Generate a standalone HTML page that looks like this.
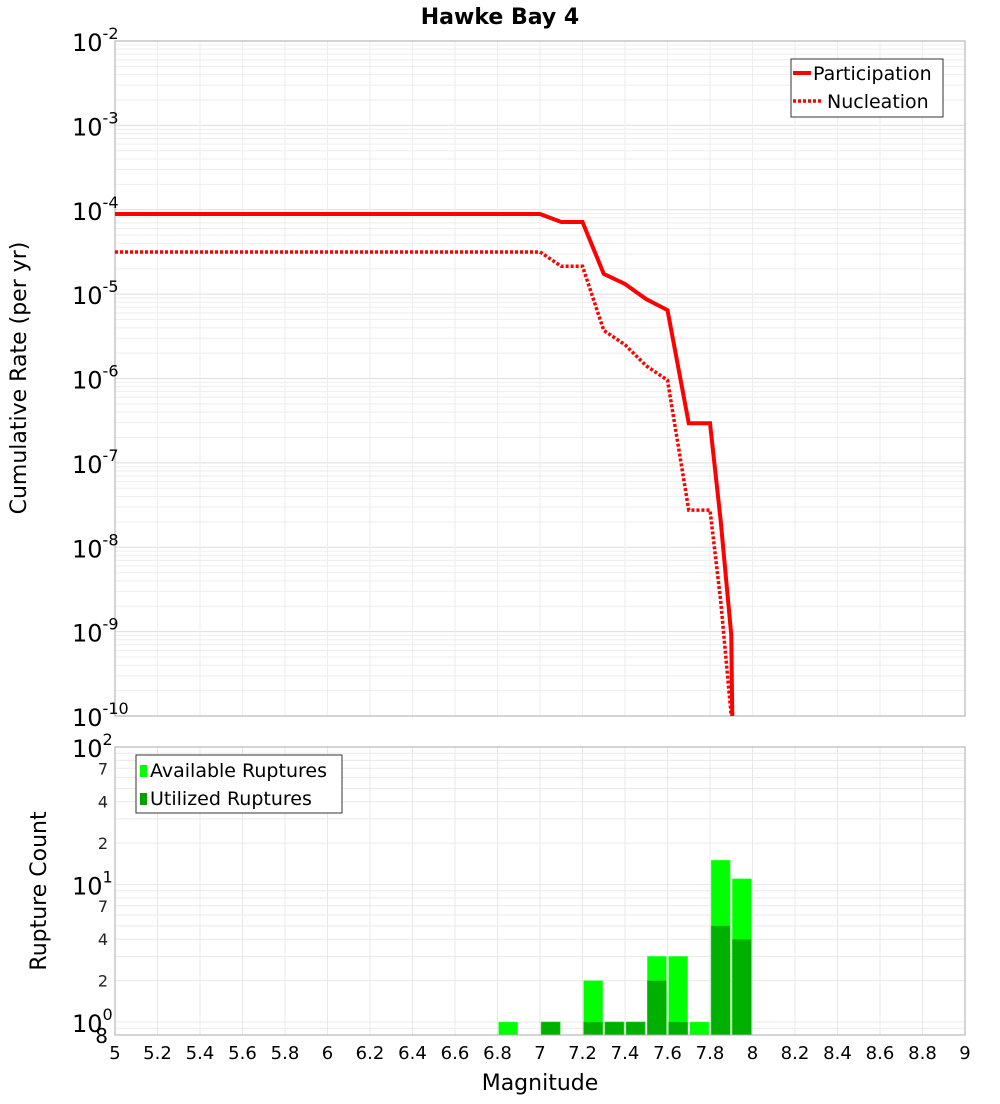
<!DOCTYPE html>
<html><head><meta charset="utf-8"><style>
body{margin:0;background:#fff;font-family:"DejaVu Sans","Liberation Sans",sans-serif;}
svg text{font-family:"DejaVu Sans","Liberation Sans",sans-serif;}
</style></head><body>
<svg id="c" width="1000" height="1100" xmlns="http://www.w3.org/2000/svg">
<rect width="1000" height="1100" fill="#fff"/>
<text x="500" y="24" font-size="22" font-weight="bold" text-anchor="middle">Hawke Bay 4</text>
<g id="topg"></g><g id="botg"></g>
</svg>
<script>
const magsLine=[5,7.0,7.1,7.2,7.3,7.4,7.5,7.6,7.7,7.8,7.85,7.9,7.91];
const partLog=[-4.05,-4.05,-4.145,-4.145,-4.76,-4.88,-5.06,-5.19,-6.53,-6.53,-7.68,-9.04,-11];
const nuclLog=[-4.5,-4.5,-4.67,-4.67,-5.43,-5.6,-5.85,-6.02,-7.56,-7.56,-8.63,-10.0,-11];
const binCenters=[6.85,7.05,7.25,7.35,7.45,7.55,7.65,7.75,7.85,7.95];
const available=[1,1,2,1,1,3,3,1,15,11];
const utilized=[0,1,1,1,1,2,1,0,5,4];
const xTicks=["5","5.2","5.4","5.6","5.8","6","6.2","6.4","6.6","6.8","7","7.2","7.4","7.6","7.8","8","8.2","8.4","8.6","8.8","9"];
const NS="http://www.w3.org/2000/svg";
const X0=115,X1=965;
const xs=m=>X0+(m-5)/4*(X1-X0);
const yt=l=>41+(-2-l)*84.375;
const yb=v=>1022-Math.log10(v)*137.5;
function mk(p,tg,a){const e=document.createElementNS(NS,tg);for(const k in a)e.setAttribute(k,a[k]);p.appendChild(e);return e;}
const gTop=document.getElementById('topg'),gBot=document.getElementById('botg');
const svgEl=document.getElementById('c');
const defs=mk(svgEl,'defs',{});
const cp=mk(defs,'clipPath',{id:'cpt'});mk(cp,'rect',{x:115,y:41,width:850,height:675});
for(let d=-10;d<-2;d++){for(let k=1;k<10;k++){const y=yt(d+Math.log10(k));
const g=mk(gTop,'line',{x1:X0,x2:X1,y1:y,y2:y,stroke:k==1?'#ddd':'#eee','stroke-width':1});

}}
xTicks.forEach(s=>{const x=xs(+s);const g=mk(gTop,'line',{x1:x,x2:x,y1:41,y2:716,stroke:'#eee'});


const g2=mk(gBot,'line',{x1:x,x2:x,y1:747,y2:1035,stroke:'#e8e8e8'});

});
const fr=mk(gTop,'rect',{x:115,y:41,width:850,height:675,fill:'none',stroke:'#aaa'});


for(let d=-10;d<=-2;d++){const y=yt(d);
const tx=mk(gTop,'text',{x:72,y:y+10,'font-size':24});


tx.textContent='10';const sp=mk(tx,'tspan',{dy:-12,'font-size':16});sp.textContent=String(d);}
const yl=mk(gTop,'text',{x:0,y:0,'font-size':22,'text-anchor':'middle',transform:'translate(26,378) rotate(-90)'});


yl.textContent='Cumulative Rate (per yr)';
function pts(arr){return magsLine.map((m,i)=>xs(m)+','+yt(arr[i])).join(' ');}
const p1=mk(gTop,'polyline',{points:pts(partLog),fill:'none',stroke:'#f00','stroke-width':4,'clip-path':'url(#cpt)'});


const p2=mk(gTop,'polyline',{points:pts(nuclLog),fill:'none',stroke:'#f00','stroke-width':3.5,'stroke-dasharray':'3,2','clip-path':'url(#cpt)'});


const lg=mk(gTop,'g',{});


mk(lg,'rect',{x:791,y:59,width:152,height:58,fill:'#fff',stroke:'#333'});
mk(lg,'line',{x1:793,x2:811,y1:73,y2:73,stroke:'#f00','stroke-width':4});
mk(lg,'line',{x1:793,x2:823,y1:101,y2:101,stroke:'#f00','stroke-width':3.5,'stroke-dasharray':'3,2'});
let tt1=mk(lg,'text',{x:813,y:80,'font-size':19});tt1.textContent='Participation';
tt1=mk(lg,'text',{x:827,y:108,'font-size':19});tt1.textContent='Nucleation';
for(let d=-1;d<2;d++){for(let k=1;k<10;k++){const y=yb(Math.pow(10,d)*k);if(y>1035||y<747)continue;
const g=mk(gBot,'line',{x1:X0,x2:X1,y1:y,y2:y,stroke:'#eaeaea'});

}}
binCenters.forEach((m,i)=>{const x=xs(m)-9.5;
if(available[i]>0){const r=mk(gBot,'rect',{x:x,y:yb(available[i]),width:19,height:1035-yb(available[i]),fill:'#00ff00',stroke:'#5f5','stroke-width':0.5});

}
if(utilized[i]>0){const r=mk(gBot,'rect',{x:x,y:yb(utilized[i]),width:19,height:1035-yb(utilized[i]),fill:'#00b000',stroke:'#3c3','stroke-width':0.5});

}});
const fr2=mk(gBot,'rect',{x:115,y:747,width:850,height:288,fill:'none',stroke:'#aaa'});


[[0,'0'],[1,'1'],[2,'2']].forEach(([d,s])=>{const y=yb(Math.pow(10,d));
const tx=mk(gBot,'text',{x:72,y:y+10,'font-size':24});


tx.textContent='10';const sp=mk(tx,'tspan',{dy:-12,'font-size':16});sp.textContent=s;});
[[7,0],[4,0],[2,0],[7,1],[4,1],[2,1]].forEach(([k,d])=>{const y=yb(k*Math.pow(10,d));
const tx=mk(gBot,'text',{x:108,y:y+6,'font-size':16,'text-anchor':'end',fill:'#222'});


tx.textContent=String(k);});
const t8=mk(gBot,'text',{x:108,y:1043,'font-size':20,'text-anchor':'end'});


t8.textContent='8';
const yl2=mk(gBot,'text',{x:0,y:0,'font-size':22,'text-anchor':'middle',transform:'translate(46,891) rotate(-90)'});


yl2.textContent='Rupture Count';
xTicks.forEach(s=>{const tx=mk(gBot,'text',{x:xs(+s),y:1059,'font-size':18,'text-anchor':'middle'});


tx.textContent=s;});
const xl=mk(gBot,'text',{x:540,y:1090,'font-size':22,'text-anchor':'middle'});


xl.textContent='Magnitude';
const lg2=mk(gBot,'g',{});


mk(lg2,'rect',{x:136,y:755,width:206,height:58,fill:'#fff',stroke:'#333'});
mk(lg2,'rect',{x:140,y:765,width:7,height:12,fill:'#00ff00'});
mk(lg2,'rect',{x:140,y:793,width:7,height:12,fill:'#00a000'});
let tt2=mk(lg2,'text',{x:150,y:777,'font-size':19});tt2.textContent='Available Ruptures';
tt2=mk(lg2,'text',{x:150,y:805,'font-size':19});tt2.textContent='Utilized Ruptures';
</script>
</body></html>
